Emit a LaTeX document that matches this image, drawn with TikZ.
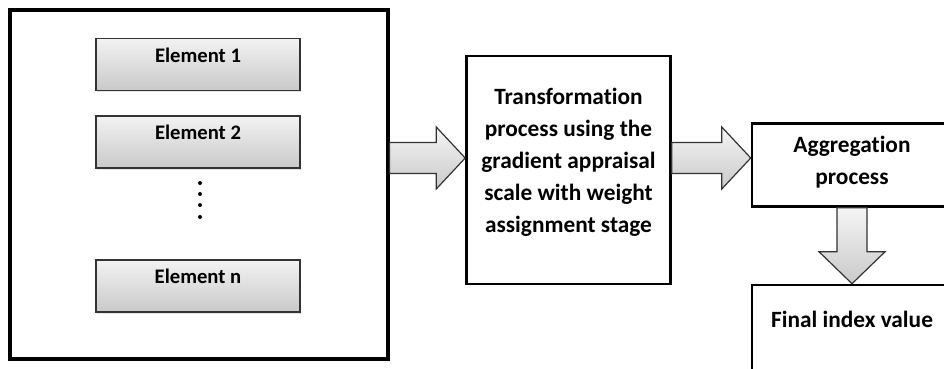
\documentclass[tikz,border=0pt]{standalone}
\usepackage{fontspec}
\setmainfont{Carlito}[Ligatures=NoCommon]
\usetikzlibrary{calc,positioning,shadows}
\tikzset{
  outerbox/.style={
    rectangle,
    draw=black, line width=2.3pt,
    minimum width=283.5pt,
    minimum height=261.75pt},
  element/.style={
    rectangle,
    draw=black!80, line width=1.2pt,
    top color=gray!10,
    bottom color=gray!42,
    minimum width=153pt,
    minimum height=39pt,
    text depth=14pt,
    font=\bfseries\fontsize{15.5}{18}\selectfont,
    drop shadow={opacity=0.2, shadow xshift=1pt, shadow yshift=-1.2pt}},
  stage/.style={
    rectangle,
    draw=black, line width=1.9pt,
    fill=white,
    align=center,
    font=\bfseries\fontsize{17.5}{24}\selectfont},
  blockarrow/.style={
    draw=black!80, line width=0.9pt,
    top color=gray!8,
    bottom color=gray!42},
  dot/.style={circle, fill=black, inner sep=0pt, minimum size=3pt},
}
% horizontal block arrow from #1 to #2 (level of #1)
\newcommand{\fatarrow}[2]{%
  \path[blockarrow] let \p1=#1, \p2=#2 in
    (\x1,\y1+11.6pt) -- (\x2-21.75pt,\y1+11.6pt) -- (\x2-21.75pt,\y1+23.25pt)
    -- (\x2,\y1) -- (\x2-21.75pt,\y1-23.25pt) -- (\x2-21.75pt,\y1-11.6pt)
    -- (\x1,\y1-11.6pt) -- cycle;}

\begin{document}
\begin{tikzpicture}[x=0.75pt, y=-0.75pt]
\useasboundingbox (0,0) rectangle (944,368);

% input side
\node[outerbox] (inputs) at (199,184.5) {};
\node[element] (el1) at (198,64.5) {Element 1};
\node[element] (el2) at (198,142) {Element 2};
\node[element] (eln) at (198,286) {Element n};
\foreach \y [count=\i] in {183,194,205,217}
  \node[dot] (dot\i) at (200,\y) {};

% stages
\node[stage, minimum width=153pt, minimum height=171pt, text depth=14.5pt]
  (transf) at (568.5,170)
  {Transformation\\process using the\\gradient appraisal\\scale with weight\\assignment stage};
\node[stage, minimum width=150pt, minimum height=62.25pt, text depth=6.7pt]
  (aggr) at (852,165) {Aggregation\\process};
\node[stage, minimum width=150pt, minimum height=90pt, text depth=38.5pt]
  (final) at (852,345) {Final index value};

% block arrows
\fatarrow{($(inputs.east)+(0,-26.5)$)}{(transf.west)}
\fatarrow{($(transf.east)+(0,-12)$)}{(aggr.west)}
\path[blockarrow] let \p1=(aggr.south), \p2=(final.north) in
  (\x1-11.25pt,\y1) -- (\x1+11.25pt,\y1) -- (\x1+11.25pt,\y2+24pt)
  -- (\x1+24.75pt,\y2+24pt) -- (\x1,\y2) -- (\x1-24.75pt,\y2+24pt)
  -- (\x1-11.25pt,\y2+24pt) -- cycle;
\end{tikzpicture}
\end{document}
